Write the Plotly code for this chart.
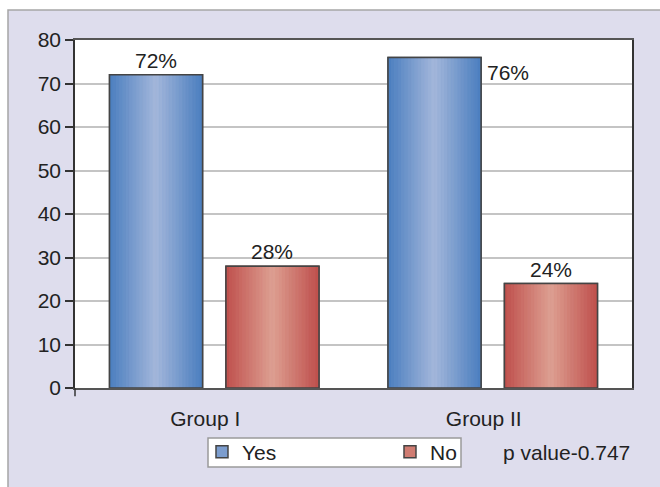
import plotly.graph_objects as go

# ---- data ----
groups = ["Group I", "Group II"]
series_names = ["Yes", "No"]
yes_values = [72, 76]
no_values = [28, 24]
yes_labels = ["72%", "76%"]
no_labels = ["28%", "24%"]
y_ticks = [0, 10, 20, 30, 40, 50, 60, 70, 80]
p_value_text = "p value-0.747"

# ---- style ----
FONT = "Arial, Liberation Sans, sans-serif"
FS = 21
TXT = "#222222"
BAR_W = 0.334
OFFSETS = {"Yes": -0.376, "No": 0.042}
EDGE = {"Yes": (74, 126, 191), "No": (191, 79, 76)}
CENTER = {"Yes": (164, 183, 219), "No": (221, 160, 146)}
N_STRIPS = 28
OUTLINE = "#444444"
LAVENDER = "#dedded"


def blend(a, b, t):
    return "rgb(%d,%d,%d)" % tuple(round(a[k] + (b[k] - a[k]) * t) for k in range(3))


fig = go.Figure()
values = {"Yes": yes_values, "No": no_values}

for name in series_names:
    off = OFFSETS[name]
    fig.add_trace(go.Bar(
        name=name, x=groups, y=values[name], offset=off, width=BAR_W,
        marker=dict(color=blend(EDGE[name], CENTER[name], 0.55),
                    line=dict(color=OUTLINE, width=1.5)),
        hoverinfo="skip",
    ))
    sw = BAR_W / N_STRIPS
    for i in range(N_STRIPS):
        tc = (i + 0.5) / N_STRIPS
        t = 1 - abs(2 * tc - 1.0)
        t = max(0.0, min(1.0, t))
        c = blend(EDGE[name], CENTER[name], t)
        fig.add_trace(go.Bar(
            x=groups, y=values[name], offset=off + i * sw, width=sw,
            marker=dict(color=c, line=dict(color=c, width=0.6)),
            showlegend=False, hoverinfo="skip",
        ))
    fig.add_trace(go.Bar(
        x=groups, y=values[name], offset=off, width=BAR_W,
        marker=dict(color="rgba(0,0,0,0)", line=dict(color=OUTLINE, width=1.5)),
        showlegend=False, hoverinfo="skip",
    ))

annotations = []
for gi, g in enumerate(groups):
    if gi == 0:
        annotations.append(dict(x=gi + OFFSETS["Yes"] + BAR_W / 2, y=yes_values[gi],
                                xref="x", yref="y", text=yes_labels[gi], showarrow=False,
                                yanchor="bottom", yshift=1,
                                font=dict(size=FS, color=TXT, family=FONT)))
    else:
        annotations.append(dict(x=gi + OFFSETS["Yes"] + BAR_W, y=yes_values[gi],
                                xref="x", yref="y", text=yes_labels[gi],
                                showarrow=False, xanchor="left", yanchor="top",
                                xshift=4, yshift=-2,
                                font=dict(size=FS, color=TXT, family=FONT)))
    annotations.append(dict(x=gi + OFFSETS["No"] + BAR_W / 2, y=no_values[gi],
                            xref="x", yref="y", text=no_labels[gi], showarrow=False,
                            yanchor="bottom", yshift=1,
                            font=dict(size=FS, color=TXT, family=FONT)))

annotations.append(dict(x=1.0, y=-0.184, xref="paper", yref="paper",
                        text=p_value_text, showarrow=False,
                        xanchor="right", yanchor="middle",
                        font=dict(size=FS, color=TXT, family=FONT)))

shapes = [
    # lavender frame with grey left/top border
    dict(type="rect", xref="paper", yref="paper", layer="below",
         x0=-0.1203, x1=1.08, y0=-0.32, y1=1.0862,
         fillcolor=LAVENDER, line=dict(color="#a6a6a6", width=1.5)),
    # white plotting area
    dict(type="rect", xref="paper", yref="paper", layer="below",
         x0=0, x1=1, y0=0, y1=1, fillcolor="white", line=dict(width=0)),
    # legend box
    dict(type="rect", xref="paper", yref="paper", layer="below",
         x0=0.2388, x1=0.6930, y0=-0.1437, y1=-0.2270,
         fillcolor="white", line=dict(color="#9a9a9a", width=1.5)),
    # y-axis line extension below zero
    dict(type="line", xref="paper", yref="paper", layer="above",
         x0=0, x1=0, y0=0, y1=-0.024, line=dict(color="#333333", width=1.5)),
]

fig.update_layout(
    width=660, height=487,
    margin=dict(l=75, r=28, t=40, b=99),
    barmode="overlay",
    paper_bgcolor="white", plot_bgcolor="white",
    font=dict(family=FONT, size=FS, color=TXT),
    shapes=shapes, annotations=annotations,
    legend=dict(orientation="h", x=0.228, y=-0.184, xanchor="left", yanchor="middle",
                bgcolor="rgba(0,0,0,0)", borderwidth=0,
                font=dict(size=FS, color=TXT, family=FONT),
                entrywidth=143, entrywidthmode="pixels",
                traceorder="normal"),
    xaxis=dict(categoryorder="array", categoryarray=groups,
               range=[-0.5, 1.5], showline=True, linecolor="#555555", linewidth=1.5,
               mirror=True, ticks="", showgrid=False, ticklabelstandoff=11,
               ticklabelshift=-9, tickfont=dict(size=FS, color=TXT, family=FONT)),
    yaxis=dict(range=[0, 80], tickvals=y_ticks, showline=True, linecolor="#333333",
               linewidth=1.5, mirror=True, ticks="outside", ticklen=8,
               tickcolor="#333333", tickwidth=1.5, showgrid=True,
               gridcolor="#c4c4c4", gridwidth=1.5, zeroline=False,
               tickfont=dict(size=FS, color=TXT, family=FONT)),
)

fig.write_html(
    "out.html",
    config={"displayModeBar": False},
    post_script="document.body.style.margin='0';document.body.style.overflow='hidden';",
)
